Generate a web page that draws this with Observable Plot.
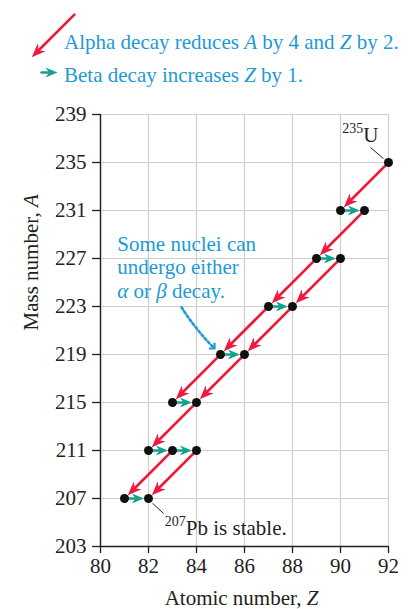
<!DOCTYPE html>
<html>
<head>
<meta charset="utf-8">
<script src="https://cdn.jsdelivr.net/npm/d3@7"></script>
<script src="https://cdn.jsdelivr.net/npm/@observablehq/plot@0.6"></script>
<style>
  html, body { margin: 0; padding: 0; background: #fff; }
  #chart { width: 417px; height: 609px; }
</style>
</head>
<body>
<div id="chart"></div>
<script>
// ---- Data ----
const zTicks = [80, 82, 84, 86, 88, 90, 92];
const aTicks = [203, 207, 211, 215, 219, 223, 227, 231, 235, 239];

// nuclides in the 235U chain
const nuclideZ = [92, 90, 91, 89, 90, 87, 88, 85, 86, 83, 84, 82, 83, 84, 81, 82];
const nuclideA = [235, 231, 231, 227, 227, 223, 223, 219, 219, 215, 215, 211, 211, 211, 207, 207];

// alpha decays (parent -> daughter)
const alphaFromZ = [92, 91, 90, 89, 88, 87, 86, 85, 84, 83, 84];
const alphaFromA = [235, 231, 227, 227, 223, 223, 219, 219, 215, 211, 211];
const alphaToZ   = [90, 89, 88, 87, 86, 85, 84, 83, 82, 81, 82];
const alphaToA   = [231, 227, 223, 223, 219, 219, 215, 215, 211, 207, 207];

// beta decays (parent -> daughter, same A)
const betaFromZ = [90, 89, 87, 85, 83, 82, 83, 81];
const betaToZ   = [91, 90, 88, 86, 84, 83, 84, 82];
const betaA     = [231, 227, 223, 219, 215, 211, 211, 207];

// legend & annotations
const legendTexts = ["Alpha decay reduces *A* by 4 and *Z* by 2.", "Beta decay increases *Z* by 1."];
const legendTextZ = [78.48, 78.48];
const legendTextA = [244.42, 241.75];
const legendAlpha = {x1: 79, y1: 247.5, x2: 77, y2: 243.5};
const legendBeta = {x1: 77.42, y1: 242.5, x2: 78.4, y2: 242.5};

const noteText = ["Some nuclei can\nundergo either\n*α* or *β* decay."];
const noteArrow = {x1: 83.38, y1: 222.92, x2: 85, y2: 219};
const uLabel = {text: "^235^U", z: 91.58, a: 236.75};
const pbLabel = {text: "^207^Pb is stable.", z: 82.68, a: 203.92};
const leaders = [
  {x1: 91.25, y1: 236.25, x2: 91.79, y2: 235.33},
  {x1: 82.17, y1: 206.6, x2: 82.63, y2: 205.75}
];

// ---- Styles ----
const RED = "#ec1b3d";
const TEAL = "#17a08b";
const BLUE = "#1c9ad6";
const INK = "#231f20";

const nuclides = nuclideZ.map((z, i) => ({z, a: nuclideA[i]}));
const alphas = alphaFromZ.map((z, i) => ({x1: z, y1: alphaFromA[i], x2: alphaToZ[i], y2: alphaToA[i]}));
const betas = betaFromZ.map((z, i) => ({x1: z, y1: betaA[i], x2: betaToZ[i], y2: betaA[i]}));

// filled, barbed arrow head pointing "up", tip offset back by `inset`
function headSymbol(len, half, inset) {
  return {
    draw(ctx) {
      ctx.moveTo(0, inset);
      ctx.lineTo(half, inset + len);
      ctx.lineTo(0, inset + len * 0.7);
      ctx.lineTo(-half, inset + len);
      ctx.closePath();
    }
  };
}
function chevronSymbol(s, inset) {
  return {
    draw(ctx) {
      ctx.moveTo(-s, inset + s);
      ctx.lineTo(0, inset);
      ctx.lineTo(s, inset + s);
    }
  };
}

function decayArrows(data, color, rotate, len, half) {
  const inset = 4.6;
  return [
    Plot.arrow(data, {x1: "x1", y1: "y1", x2: "x2", y2: "y2", stroke: color, strokeWidth: 2.7,
      headLength: 0, insetStart: 3, insetEnd: inset + len * 0.5}),
    Plot.dot(data, {x: "x2", y: "y2", symbol: headSymbol(len, half, inset), rotate,
      fill: color, stroke: "none"})
  ];
}

const chart = Plot.plot({
  width: 417,
  height: 609,
  marginLeft: 100,
  marginRight: 29,
  marginTop: 114,
  marginBottom: 63,
  x: {domain: [80, 92]},
  y: {domain: [203, 239]},
  style: {fontFamily: "'Liberation Serif', serif", fontSize: "21px", color: INK, background: "#fff", overflow: "visible"},
  marks: [
    Plot.gridX({ticks: zTicks, stroke: "#cdcdcd", strokeOpacity: 1, strokeWidth: 1.2}),
    Plot.gridY({ticks: aTicks, stroke: "#cdcdcd", strokeOpacity: 1, strokeWidth: 1.2}),
    Plot.axisX({ticks: zTicks, tickSize: 7, tickPadding: 5, label: null, fontSize: 21, strokeWidth: 1.3}),
    Plot.axisY({ticks: aTicks, tickSize: 8, tickPadding: 6, label: null, fontSize: 21, strokeWidth: 1.3}),
    Plot.ruleX([80], {stroke: INK, strokeWidth: 1.4}),
    Plot.ruleY([203], {stroke: INK, strokeWidth: 1.4}),
    Plot.text(["Atomic number, *Z*"], {frameAnchor: "bottom", dx: -3, dy: 58, lineAnchor: "bottom", fontSize: 21, fill: INK}),
    Plot.text(["Mass number, *A*"], {frameAnchor: "left", rotate: -90, dx: -63, lineAnchor: "bottom", fontSize: 21, fill: INK}),

    // decay arrows
    ...decayArrows(alphas, RED, 225, 14, 5.5),
    ...decayArrows(betas, TEAL, 90, 12, 5),

    // nuclides
    Plot.dot(nuclides, {x: "z", y: "a", r: 4.5, fill: "#111", stroke: "none"}),

    // leader lines & labels
    Plot.link(leaders, {x1: "x1", y1: "y1", x2: "x2", y2: "y2", stroke: INK, strokeWidth: 1}),
    Plot.text([uLabel], {x: "z", y: "a", text: "text", textAnchor: "end", lineAnchor: "bottom", fontSize: 21, fill: INK}),
    Plot.text([pbLabel], {x: "z", y: "a", text: "text", textAnchor: "start", lineAnchor: "bottom", fontSize: 21, fill: INK}),

    // note with dotted arrow
    Plot.text(noteText, {x: 80.7, y: 223.75, textAnchor: "start", lineAnchor: "bottom", lineHeight: 1.1,
      fontSize: 21, fill: BLUE}),
    Plot.arrow([noteArrow], {x1: "x1", y1: "y1", x2: "x2", y2: "y2", stroke: BLUE, strokeWidth: 2.6,
      strokeDasharray: "2.2,2.6", headLength: 0, insetEnd: 10, bend: -7}),
    Plot.dot([noteArrow], {x: "x2", y: "y2", symbol: chevronSymbol(4, 8.5), rotate: 135, fill: "none",
      stroke: BLUE, strokeWidth: 2.2}),

    // legend
    ...decayArrows([legendAlpha], RED, 225, 14, 5.5),
    ...decayArrows([legendBeta], TEAL, 90, 12, 5),
    Plot.text(legendTexts, {x: (d, i) => legendTextZ[i], y: (d, i) => legendTextA[i], text: d => d,
      textAnchor: "start", lineAnchor: "bottom", fontSize: 21, fill: BLUE})
  ]
});

// rich text: *italic* and ^superscript^
function richText(root) {
  const ns = "http://www.w3.org/2000/svg";
  const walker = document.createTreeWalker(root, NodeFilter.SHOW_TEXT);
  const nodes = [];
  while (walker.nextNode()) nodes.push(walker.currentNode);
  for (const node of nodes) {
    const parent = node.parentNode;
    if (!parent || !/^(text|tspan)$/i.test(parent.nodeName)) continue;
    const s = node.data;
    if (!/[*^]/.test(s)) continue;
    const parts = s.split(/(\*[^*]+\*|\^[^^]+\^)/).filter(p => p);
    const frag = document.createDocumentFragment();
    let raised = false;
    for (const p of parts) {
      const t = document.createElementNS(ns, "tspan");
      if (p[0] === "*") {
        t.textContent = p.slice(1, -1);
        t.setAttribute("font-style", "italic");
      } else if (p[0] === "^") {
        t.textContent = p.slice(1, -1);
        t.setAttribute("font-size", "14");
        t.setAttribute("dy", "-9");
      } else {
        t.textContent = p;
      }
      if (raised && p[0] !== "^") { t.setAttribute("dy", "9"); }
      raised = p[0] === "^";
      frag.appendChild(t);
    }
    parent.replaceChild(frag, node);
  }
}
richText(chart);
document.getElementById("chart").appendChild(chart);
</script>
</body>
</html>
